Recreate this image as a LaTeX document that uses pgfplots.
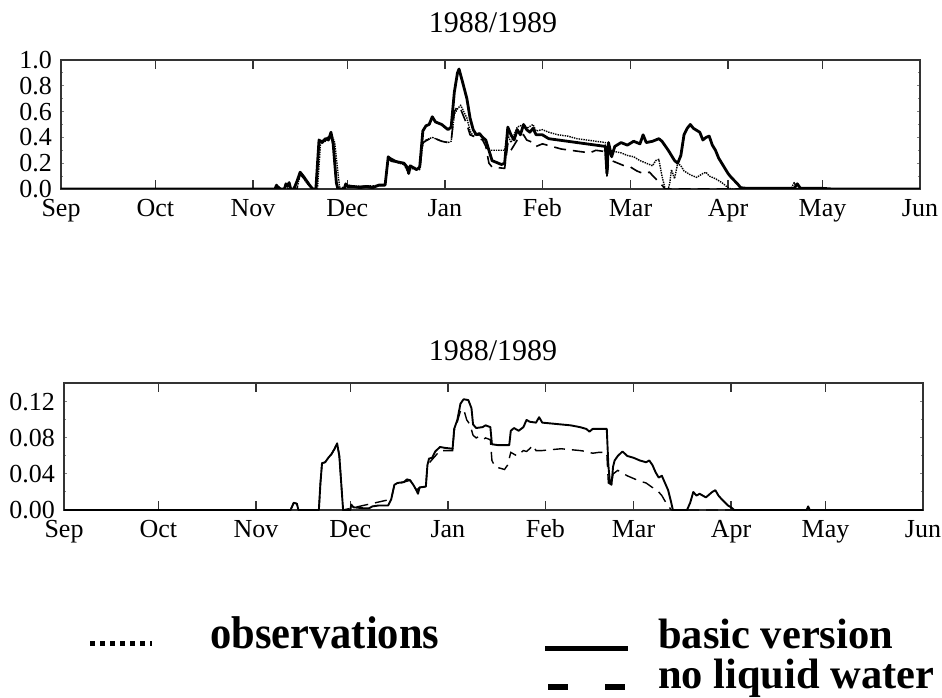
\documentclass[border=0pt]{standalone}
\usepackage{pgfplots}
\pgfplotsset{compat=1.18}
\usepackage{fontspec}
\setmainfont{Liberation Serif}
\usepackage{graphicx}

\newcommand\ticksize{\fontsize{26}{28}\selectfont}
\newcommand\titlesize{\fontsize{30}{32}\selectfont}
\newcommand\legendfont{\fontsize{42.5}{44}\selectfont\bfseries}

% days counted from 1 September 1988
\pgfplotsset{
  seasonaxis/.style={
    scale only axis,
    width=859pt,
    xmin=0, xmax=273,
    ymin=0,
    xtick={0,30,61,91,122,153,181,212,242,273},
    xticklabels={Sep,Oct,Nov,Dec,Jan,Feb,Mar,Apr,May,Jun},
    xtick pos=both, xticklabel pos=lower,
    ytick pos=both, yticklabel pos=left,
    tick align=inside,
    major tick length=9pt,
    minor y tick num=1,
    ytick style={/pgfplots/major tick length=3pt, /pgfplots/minor tick length=2pt, line width=1pt},
    xtick style={line width=1.3pt, black!80},
    axis line style={line width=1.3pt, black!80},
    ticklabel style={font=\ticksize},
    xticklabel style={text height=18pt, text depth=5pt, inner sep=1pt, yshift=-8pt},
    yticklabel style={inner sep=1pt, xshift=-8pt},
    /pgf/number format/assume math mode=true,
    /pgf/number format/.cd, fixed, zerofill,
  },
  basic/.style={black, line width=2.8pt, line join=round},
  obs/.style={black, line width=1.4pt, densely dotted, line join=round},
  noliq/.style={black, line width=1.6pt, dash pattern=on 12pt off 7pt},
}

\begin{document}
\begin{tikzpicture}
\useasboundingbox (0,0) rectangle (942pt,697pt);

\node[anchor=base, font=\titlesize] at (493pt,664pt) {1988/1989};
\node[anchor=base, font=\titlesize] at (493pt,336pt) {1988/1989};

% ---------------- upper panel ----------------
\begin{axis}[seasonaxis, at={(61pt,508pt)}, anchor=south west,
  height=129pt, ymax=1.0,
  ytick={0,0.2,0.4,0.6,0.8,1.0},
  yticklabel style={/pgf/number format/precision=1}]
\addplot[obs] coordinates {
(0,0)(68,0)(69,0.02)(70,0)(75,0)(76,0.12)(78,0.05)(80,0)(81.5,0)(82.5,0.36)(84,0.37)(86,0.42)
(87,0.36)(88.5,0.02)(89,0)(90.5,0.03)(95,0.02)(103,0.03)(104,0.24)(106,0.21)(109,0.19)
(110,0.14)(112,0.16)(114,0.15)(115,0.35)(116,0.38)(118,0.40)(121,0.37)(123,0.36)(124,0.37)
(125,0.58)(126,0.62)(127,0.65)(128,0.6)(129,0.55)(130,0.45)(131,0.41)(132,0.43)(134,0.4)
(135,0.36)(136,0.3)(141,0.3)(142,0.42)(143,0.36)(145,0.48)(147,0.5)(148,0.47)(150,0.5)
(151,0.45)(153,0.46)(155,0.44)(158,0.42)(161,0.41)(164,0.39)(167,0.38)(170,0.37)(173,0.36)
(173.5,0.1)(174,0.3)(176,0.29)(178,0.28)(180,0.26)(182,0.25)(184,0.22)(186,0.2)(188,0.18)
(189,0.22)(190,0.23)(191,0.1)(192,0)(193,0)(193.5,0.05)(194,0.15)(195,0.08)(196,0.2)
(197,0.18)(198,0.14)(200,0.11)(202,0.09)(204,0.12)(205,0.13)(206,0.1)(208,0.08)(210,0.05)
(212,0.01)(213,0)(232,0)(233,0.05)(234,0)(273,0)};
\addplot[noliq] coordinates {
(0,0)(68,0)(69,0.02)(70,0)(75,0)(76,0.12)(78,0.05)(80,0)(81,0)(82,0.37)(84,0.38)
(85.8,0.43)(86.5,0.35)(87.5,0.05)(88,0)(90,0)(90.5,0.03)(95,0.02)(103,0.03)(104,0.25)
(107,0.21)(109,0.2)(110,0.16)(111,0.17)(114,0.16)(115,0.36)(118,0.40)(121,0.37)(123,0.36)
(124,0.37)(125,0.6)(126,0.64)(127,0.62)(129,0.5)(130,0.42)(132,0.4)(134,0.38)
(135,0.33)(136,0.2)(137,0.17)(141,0.16)(142,0.35)(143,0.3)(145,0.38)(147,0.42)(148,0.38)
(150,0.36)(151,0.33)(153,0.35)(156,0.33)(159,0.31)(162,0.3)(165,0.29)(168,0.28)(170,0.3)
(173,0.29)(173.5,0.1)(174,0.2)(175,0.22)(177,0.2)(179,0.18)(181,0.17)(183,0.14)(185,0.12)
(187,0.13)(189,0.08)(190,0.05)(191,0.03)(192,0)(273,0)};
\addplot[basic] coordinates {
(0,0)(68,0)(68.5,0.03)(69,0)(71,0)(71.5,0.04)(72,0.02)(72.5,0.05)(73,0)(74,0)(75,0.06)
(76,0.13)(77,0.1)(79,0.03)(80,0)(81,0)(82,0.38)(83,0.36)(84,0.39)(85,0.38)(85.8,0.44)
(86.5,0.35)(87.5,0.05)(88,0)(90,0)(90.5,0.04)(91,0.02)(93,0.02)(95,0.01)(97,0.02)(99,0.01)
(101,0.03)(103,0.03)(104,0.25)(105,0.22)(107,0.21)(109,0.2)(110,0.17)(110.5,0.12)(111,0.18)
(113,0.15)(114,0.17)(115,0.45)(116,0.49)(117,0.5)(118,0.56)(119,0.52)(121,0.5)(123,0.46)
(124,0.48)(125,0.75)(126,0.9)(126.5,0.93)(127.5,0.84)(129,0.7)(130,0.55)(131,0.46)
(132,0.42)(133,0.43)(134,0.4)(135,0.38)(136,0.3)(137,0.22)(139,0.2)(140,0.19)(141,0.2)
(142,0.48)(143,0.42)(144,0.38)(145,0.46)(146,0.42)(147,0.5)(148,0.46)(149,0.44)(150,0.47)
(151,0.42)(153,0.42)(155,0.39)(158,0.38)(161,0.37)(164,0.36)(167,0.35)(170,0.34)(173,0.33)
(173.5,0.12)(174,0.36)(175,0.25)(176,0.33)(178,0.36)(180,0.34)(182,0.37)(184,0.35)
(185,0.42)(186,0.36)(188,0.37)(190,0.39)(191,0.37)(193,0.3)(195,0.22)(196,0.2)(197,0.26)
(198,0.42)(199,0.47)(200,0.5)(201,0.47)(203,0.44)(204,0.38)(205,0.4)(206,0.41)(207,0.34)
(208,0.3)(209,0.24)(210,0.2)(212,0.12)(213,0.09)(215,0.04)(216,0.01)(218,0.005)(225,0.005)
(233,0.005)(234,0.04)(235,0.005)(242,0.005)(245,0)(273,0)};
\end{axis}

% ---------------- lower panel ----------------
\begin{axis}[seasonaxis, at={(64pt,187pt)}, anchor=south west,
  height=127pt, ymax=0.141,
  ytick={0,0.04,0.08,0.12},
  yticklabel style={/pgf/number format/precision=2}]
\addplot[noliq, line width=1.4pt] coordinates {
(0,0)(72,0)(72.5,0.004)(73,0.008)(74,0.007)(74.5,0)(81,0)(81.5,0.03)(82,0.052)(83,0.053)
(84,0.058)(85,0.062)(86,0.068)(86.8,0.074)(87.5,0.06)(88.3,0.02)(88.7,0)(104,0.012)
(105,0.028)(108,0.031)(110,0.033)(112,0.022)(113,0.025)(115,0.026)(115.5,0.05)(117,0.056)
(119.5,0.066)(123.5,0.066)(124,0.088)(125,0.098)(126,0.11)(127,0.112)(128,0.1)(129,0.095)
(130,0.083)(131,0.08)(132,0.082)(133.5,0.079)(134,0.08)(135.5,0.078)(136,0.055)(137,0.048)
(139,0.046)(140,0.045)(141,0.05)(142,0.064)(143,0.062)(144,0.06)(145,0.063)(146,0.066)
(147,0.065)(148,0.068)(149,0.072)(150,0.066)(152,0.066)(155,0.067)(158,0.068)(161,0.067)
(164,0.066)(166,0.065)(168,0.063)(170,0.064)(172.5,0.064)(173,0.03)(174,0.028)(174.5,0.04)
(176,0.044)(177,0.042)(179,0.038)(181,0.035)(183,0.032)(185,0.03)(187,0.025)(189,0.02)
(190,0.016)(191,0.01)(192,0.005)(193,0)(273,0)};
\addplot[black, line width=1.9pt, line join=round] coordinates {
(0,0)(72,0)(72.5,0.004)(73,0.008)(74,0.007)(74.5,0)(81,0)(81.5,0.03)(82,0.052)(83,0.053)
(84,0.058)(85,0.062)(86,0.068)(86.8,0.074)(87.5,0.06)(88.3,0.02)(88.7,0)(91,0)(91.3,0.006)
(92,0.003)(95,0.002)(97,0.002)(98,0.004)(100,0.005)(103,0.005)(104,0.012)(105,0.028)
(106,0.03)(108,0.031)(109,0.034)(110,0.033)(111,0.028)(112,0.022)(112.5,0.018)(113,0.025)
(115,0.026)(115.5,0.05)(116,0.057)(117,0.058)(118,0.065)(119.5,0.07)(121,0.069)
(123.5,0.068)(124,0.09)(125,0.1)(126,0.118)(127,0.123)(128.5,0.122)(129.5,0.113)
(130,0.095)(131,0.091)(133,0.092)(134,0.094)(135.5,0.092)(136,0.073)(138,0.072)
(141.5,0.072)(142,0.088)(143,0.091)(144.5,0.088)(146,0.092)(147,0.1)(148,0.098)(150,0.097)
(151,0.103)(152,0.097)(155,0.096)(158,0.095)(161,0.094)(164,0.092)(166,0.09)(167,0.087)
(168,0.09)(172.5,0.09)(173,0.05)(173.5,0.03)(174,0.028)(174.5,0.048)(175,0.055)(176,0.06)
(177.5,0.065)(179,0.06)(181,0.058)(183,0.055)(185,0.053)(186,0.055)(187,0.05)(188,0.042)
(189,0.036)(190,0.038)(191,0.03)(192,0.022)(193,0.008)(193.5,0)(198,0)(199,0.008)(200,0.02)
(201,0.016)(202,0.018)(204,0.014)(206,0.02)(207,0.022)(208,0.016)(209,0.012)(211,0.005)
(212,0.003)(213,0)(236,0)(236.5,0.004)(237,0)(273,0)};
\end{axis}

% ---------------- key ----------------
\draw[line width=5pt, dash pattern=on 5pt off 5pt] (90pt,54pt) -- (152pt,54pt);
\node[anchor=base west, inner sep=0pt] at (210pt,49pt)
  {\scalebox{1}[1.08]{\legendfont observations}};
\draw[line width=5pt] (545pt,49pt) -- (628pt,49pt);
\node[anchor=base west, inner sep=0pt] at (658pt,49pt)
  {\legendfont basic version};
\draw[line width=6pt, dash pattern=on 20pt off 37pt] (548pt,10pt) -- (626pt,10pt);
\node[anchor=base west, inner sep=0pt] at (658pt,9pt)
  {\legendfont no liquid water};
\end{tikzpicture}
\end{document}
